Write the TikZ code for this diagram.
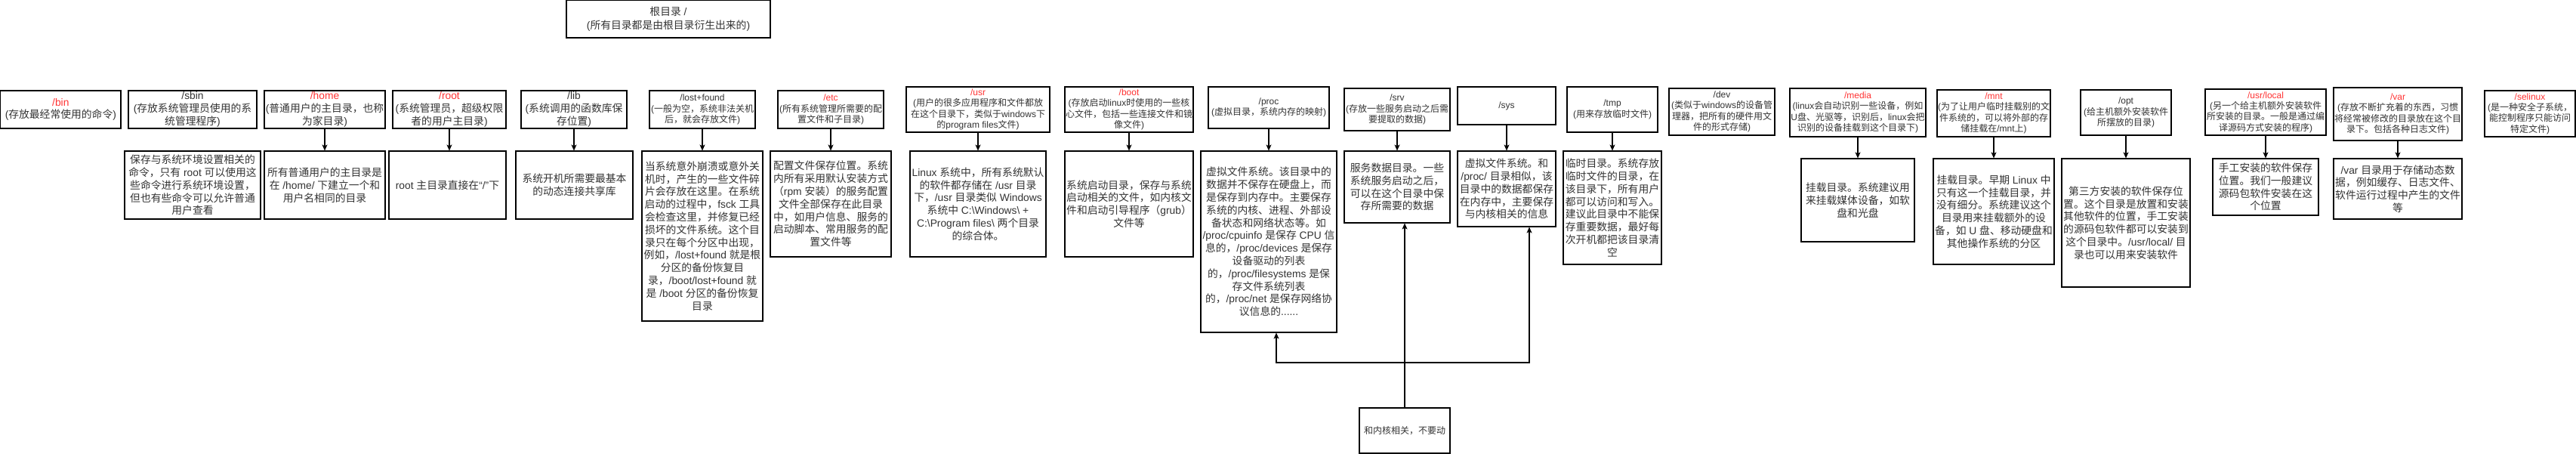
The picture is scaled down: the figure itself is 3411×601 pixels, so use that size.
\documentclass[tikz,border=0pt]{standalone}
\usepackage{fontspec}
\setmainfont{Liberation Sans}
\newfontfamily\cjkf{Noto Sans CJK SC}
\newfontfamily\latf{Liberation Sans}
\usetikzlibrary{arrows.meta}
\XeTeXinterchartokenstate=1
\newXeTeXintercharclass\CJKcls
\makeatletter
\count@="2E80
\loop
  \XeTeXcharclass\count@=\CJKcls
  \ifnum\count@<"9FFF \advance\count@ by 1 \repeat
\count@="FF00
\loop
  \XeTeXcharclass\count@=\CJKcls
  \ifnum\count@<"FFEF \advance\count@ by 1 \repeat
\makeatother
\XeTeXinterchartoks 0 \CJKcls = {\cjkf}
\XeTeXinterchartoks 4095 \CJKcls = {\cjkf}
\XeTeXinterchartoks \CJKcls 0 = {\latf}
\XeTeXinterchartoks \CJKcls 4095 = {\latf}
\definecolor{tgray}{HTML}{333333}
\definecolor{tred}{HTML}{FF3333}
\newcommand\rt[1]{\textcolor{tred}{#1}}
\newcommand\dbox[7]{%
  \node[box, minimum width={(#4-#2)*1pt}, minimum height={(#5-#3)*1pt}] (#1) at ({(#2+#4)/2},{(#3+#5)/2}) {};
  \node[#6] (#1T) at (#1.center) {#7};
}
\tikzset{
  box/.style={draw=black, line width=1.1pt, inner sep=0pt, fill=white},
  t14/.style={align=center, text=tgray, font=\fontsize{13.8}{16.8}\selectfont, inner sep=0pt},
  t14r/.style={align=center, text=tgray, font=\fontsize{13.8}{17.5}\selectfont, inner sep=0pt},
  t12/.style={align=center, text=tgray, font=\fontsize{12}{14.4}\selectfont, inner sep=0pt},
  arr/.style={draw=black, line width=1.1pt, -{Stealth[length=8pt,width=7pt,inset=2pt]}},
}
\begin{document}
\begin{tikzpicture}[x=1pt,y=-1pt]
\useasboundingbox (0,0) rectangle (3411,601);

\dbox{root}{750}{0.6}{1020}{50}{t14r}{根目录 /\\(所有目录都是由根目录衍生出来的)}

\dbox{bin}{0.7}{120}{160}{170}{t14}{\rt{/bin}\\(存放最经常使用的命令)}
\dbox{sbin}{170}{120}{340}{170}{t14}{/sbin\\(存放系统管理员使用的系\\统管理程序)}
\dbox{home}{350}{120}{510}{170}{t14}{\rt{/home}\\(普通用户的主目录，也称\\为家目录)}
\dbox{rootdir}{520}{120}{670}{170}{t14}{\rt{/root}\\(系统管理员，超级权限\\者的用户主目录)}
\dbox{lib}{690}{120}{830}{170}{t14}{/lib\\(系统调用的函数库保\\存位置)}
\dbox{lost}{860}{120}{1000}{170}{t12}{/lost+found\\(一般为空，系统非法关机\\后，就会存放文件)}
\dbox{etc}{1030}{120}{1170}{170}{t12}{\rt{/etc}\\(所有系统管理所需要的配\\置文件和子目录)}
\dbox{usr}{1200}{115}{1390}{175}{t12}{\rt{/usr}\\(用户的很多应用程序和文件都放\\在这个目录下，类似于windows下\\的program files文件)}
\dbox{boot}{1410}{115}{1580}{175}{t12}{\rt{/boot}\\(存放启动linux时使用的一些核\\心文件，包括一些连接文件和镜\\像文件)}
\dbox{proc}{1600}{115}{1760}{170}{t12}{/proc\\(虚拟目录，系统内存的映射)}
\dbox{srv}{1780}{117}{1920}{173}{t12}{/srv\\(存放一些服务启动之后需\\要提取的数据)}
\dbox{sys}{1930}{115}{2060}{165}{t12}{/sys}
\dbox{tmp}{2075}{115}{2195}{175}{t12}{/tmp\\(用来存放临时文件)}
\dbox{dev}{2210}{117}{2350}{179}{t12}{/dev\\(类似于windows的设备管\\理器，把所有的硬件用文\\件的形式存储)}
\dbox{media}{2370}{117}{2550}{181}{t12}{\rt{/media}\\(linux会自动识别一些设备，例如\\U盘、光驱等，识别后，linux会把\\识别的设备挂载到这个目录下)}
\dbox{mnt}{2565}{119}{2715}{181}{t12}{\rt{/mnt}\\(为了让用户临时挂载别的文\\件系统的，可以将外部的存\\储挂载在/mnt上)}
\dbox{opt}{2755}{119}{2875}{179}{t12}{/opt\\(给主机额外安装软件\\所摆放的目录)}
\dbox{ulocal}{2920}{118}{3080}{179}{t12}{\rt{/usr/local}\\(另一个给主机额外安装软件\\所安装的目录。一般是通过编\\译源码方式安装的程序)}
\dbox{var}{3090}{116}{3260}{186}{t12}{\rt{/var}\\(存放不断扩充着的东西，习惯\\将经常被修改的目录放在这个目\\录下。包括各种日志文件)}
\dbox{selinux}{3290}{120}{3410}{181}{t12}{\rt{/selinux}\\(是一种安全子系统，\\能控制程序只能访问\\特定文件)}

\dbox{sbinD}{165}{200}{345}{290}{t14}{保存与系统环境设置相关的\\命令，只有 root 可以使用这\\些命令进行系统环境设置，\\但也有些命令可以允许普通\\用户查看}
\dbox{homeD}{350}{200}{510}{290}{t14}{所有普通用户的主目录是\\在 /home/ 下建立一个和\\用户名相同的目录}
\dbox{rootdirD}{515}{200}{670}{290}{t14}{root 主目录直接在“/”下}
\dbox{libD}{683}{200}{838}{290}{t14}{系统开机所需要最基本\\的动态连接共享库}
\dbox{lostD}{850}{200}{1010}{425}{t14}{当系统意外崩溃或意外关\\机时，产生的一些文件碎\\片会存放在这里。在系统\\启动的过程中，fsck 工具\\会检查这里，并修复已经\\损坏的文件系统。这个目\\录只在每个分区中出现，\\例如，/lost+found 就是根\\分区的备份恢复目\\录，/boot/lost+found 就\\是 /boot 分区的备份恢复\\目录}
\dbox{etcD}{1020}{200}{1180}{340}{t14}{配置文件保存位置。系统\\内所有采用默认安装方式\\（rpm 安装）的服务配置\\文件全部保存在此目录\\中，如用户信息、服务的\\启动脚本、常用服务的配\\置文件等}
\dbox{usrD}{1205}{200}{1385}{340}{t14}{Linux 系统中，所有系统默认\\的软件都存储在 /usr 目录\\下，/usr 目录类似 Windows\\系统中 C:\textbackslash Windows\textbackslash{} +\\C:\textbackslash Program files\textbackslash{} 两个目录\\的综合体。}
\dbox{bootD}{1410}{200}{1580}{340}{t14}{系统启动目录，保存与系统\\启动相关的文件，如内核文\\件和启动引导程序（grub）\\文件等}
\dbox{procD}{1590}{200}{1770}{440}{t14}{虚拟文件系统。该目录中的\\数据并不保存在硬盘上，而\\是保存到内存中。主要保存\\系统的内核、进程、外部设\\备状态和网络状态等。如\\/proc/cpuinfo 是保存 CPU 信\\息的，/proc/devices 是保存\\设备驱动的列表\\的，/proc/filesystems 是保\\存文件系统列表\\的，/proc/net 是保存网络协\\议信息的......}
\dbox{srvD}{1780}{200}{1920}{295}{t14}{服务数据目录。一些\\系统服务启动之后，\\可以在这个目录中保\\存所需要的数据}
\dbox{sysD}{1930}{200}{2060}{300}{t14}{虚拟文件系统。和\\/proc/ 目录相似，该\\目录中的数据都保存\\在内存中，主要保存\\与内核相关的信息}
\dbox{tmpD}{2070}{200}{2200}{350}{t14}{临时目录。系统存放\\临时文件的目录，在\\该目录下，所有用户\\都可以访问和写入。\\建议此目录中不能保\\存重要数据，最好每\\次开机都把该目录清\\空}
\dbox{mediaD}{2385}{210}{2535}{320}{t14}{挂载目录。系统建议用\\来挂载媒体设备，如软\\盘和光盘}
\dbox{mntD}{2560}{210}{2720}{350}{t14}{挂载目录。早期 Linux 中\\只有这一个挂载目录，并\\没有细分。系统建议这个\\目录用来挂载额外的设\\备，如 U 盘、移动硬盘和\\其他操作系统的分区}
\dbox{optD}{2730}{210}{2900}{380}{t14}{第三方安装的软件保存位\\置。这个目录是放置和安装\\其他软件的位置，手工安装\\的源码包软件都可以安装到\\这个目录中。/usr/local/ 目\\录也可以用来安装软件}
\dbox{ulocalD}{2930}{210}{3070}{285}{t14}{手工安装的软件保存\\位置。我们一般建议\\源码包软件安装在这\\个位置}
\dbox{varD}{3090}{210}{3260}{290}{t14}{/var 目录用于存储动态数\\据，例如缓存、日志文件、\\软件运行过程中产生的文件\\等}
\dbox{kern}{1800}{540}{1920}{600}{t12}{和内核相关，不要动}

\foreach \a/\b in {home/homeD, rootdir/rootdirD, lib/libD, lost/lostD, etc/etcD, usr/usrD, boot/bootD, proc/procD, srv/srvD, sys/sysD, tmp/tmpD, media/mediaD, mnt/mntD, opt/optD, ulocal/ulocalD, var/varD}
  \draw[arr] (\a.south) -- (\a.south |- \b.north);

\coordinate (j) at (1860,480);
\draw[arr] (kern.north) -- (kern.north |- srvD.south);
\draw[arr] (kern.north) -- (j) -| ([xshift=10pt]procD.south);
\draw[arr] (j) -| ([xshift=30pt]sysD.south);
\end{tikzpicture}
\end{document}
